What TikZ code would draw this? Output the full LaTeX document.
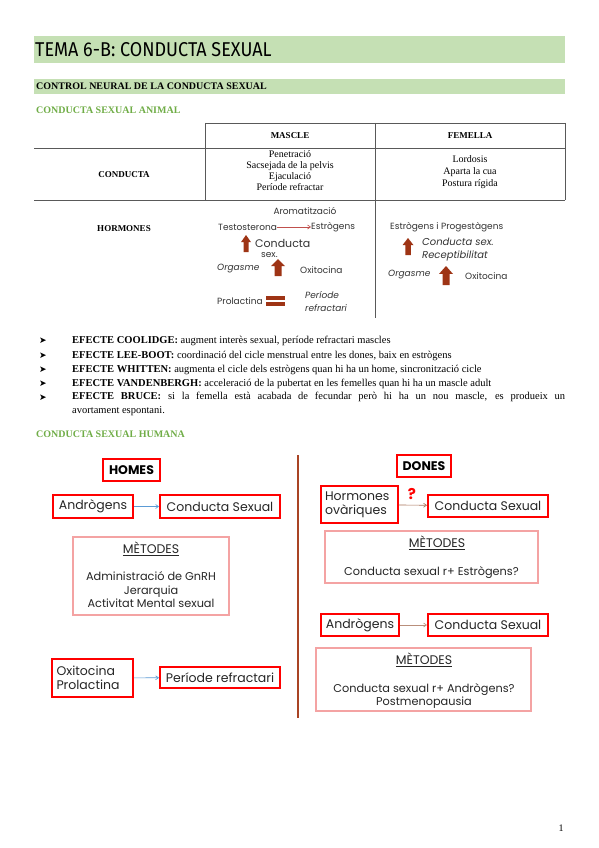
\documentclass[tikz,border=0pt]{standalone}
\usepackage{fontspec}
\setmainfont{Liberation Serif}
\newfontfamily\gothic{Poppins}
\newfontfamily\titlef{Fira Sans}
\newfontfamily\dejavu{DejaVu Sans}
\usetikzlibrary{arrows.meta}
\definecolor{titlegreen}{HTML}{C5E0B4}
\definecolor{animalgreen}{HTML}{70AD47}
\definecolor{hbrown}{HTML}{A94424}
\definecolor{blockbrown}{HTML}{9E3415}
\definecolor{pinkbox}{HTML}{F4A3A3}
\definecolor{bluearr}{HTML}{5B9BD5}
\definecolor{donarr}{HTML}{A8735A}
\definecolor{testarr}{HTML}{C0504D}
\newcommand\myuparrow[4]{\fill[blockbrown] ({#1},{#2}) -- ({#1+#4/2},{#2+0.42*#3}) -- ({#1+#4/4},{#2+0.42*#3}) -- ({#1+#4/4},{#2+#3}) -- ({#1-#4/4},{#2+#3}) -- ({#1-#4/4},{#2+0.42*#3}) -- ({#1-#4/2},{#2+0.42*#3}) -- cycle;}
\tikzset{
  tbl/.style={draw=black!65, line width=0.6pt},
  ser/.style={font=\fontsize{10}{11}\selectfont, inner sep=0pt},
  serb/.style={font=\fontsize{9}{11}\selectfont\bfseries, inner sep=0pt},
  hdr/.style={font=\fontsize{10}{11}\selectfont\bfseries, inner sep=0pt},
  bultxt/.style={font=\fontsize{10.5}{14}\selectfont, inner sep=0pt},
  goth/.style={font=\gothic\fontsize{9}{10}\selectfont, inner sep=0pt, text=black!80},
  gothi/.style={font=\gothic\itshape\fontsize{9}{10}\selectfont, inner sep=0pt, text=black!80},
  redbox/.style={draw=red, line width=1.9pt, inner sep=0pt, font=\gothic\fontsize{12.5}{14}\selectfont, text=black!85},
  headbox/.style={redbox, font=\gothic\bfseries\fontsize{12.5}{14}\selectfont, text=black},
  metbox/.style={draw=pinkbox, line width=1.1pt, inner sep=0pt},
  methead/.style={font=\gothic\fontsize{12.5}{14}\selectfont, inner sep=0pt, text=black!85},
  mettxt/.style={font=\gothic\fontsize{11.3}{13.5}\selectfont, inner sep=0pt, text=black!85},
  bul/.style={font=\dejavu\fontsize{9}{10}\selectfont, inner sep=0pt},
  conn/.style={-{Straight Barb[length=3pt,width=4pt]}, line width=0.6pt}
}
\begin{document}
\begin{tikzpicture}[x=1pt,y=-1pt]
\useasboundingbox[fill=white] (0,0) rectangle (599,848);
% title bands
\fill[titlegreen] (34,36) rectangle (565,63);
\node[anchor=west, inner sep=0pt, font=\titlef\fontsize{20}{22}\selectfont] (title) at (35,50) {\scalebox{0.9}[1]{TEMA 6-B: CONDUCTA SEXUAL}};
\fill[titlegreen] (34,79) rectangle (565,94);
\node[anchor=west, hdr] (sub) at (36,86.5) {CONTROL NEURAL DE LA CONDUCTA SEXUAL};
\node[anchor=west, hdr, text=animalgreen] (animal) at (36,110) {CONDUCTA SEXUAL ANIMAL};
% table
\draw[tbl] (205,123) -- (565,123);
\draw[tbl] (205,123) -- (205,200);
\draw[tbl] (375,123) -- (375,318);
\draw[tbl] (565,123) -- (565,200);
\draw[tbl] (34,148) -- (565,148);
\draw[tbl] (34,200) -- (565,200);
\node[serb] (mascle) at (290,136) {MASCLE};
\node[serb] (femella) at (470,136) {FEMELLA};
\node[serb] (conducta) at (124,175) {CONDUCTA};
\node[ser, align=center, font=\fontsize{10}{11}\selectfont] (mlist) at (290,171) {Penetració\\Sacsejada de la pelvis\\Ejaculació\\Període refractar};
\node[ser, align=center, font=\fontsize{10}{12}\selectfont] (flist) at (470,172) {Lordosis\\Aparta la cua\\Postura rígida};
\node[serb] (hormones) at (124,229) {HORMONES};
% male hormones
\node[goth] (arom) at (305,211) {Aromatització};
\node[goth, anchor=west] (testo) at (218,227) {Testosterona};
\node[goth, anchor=west] (estro) at (311,227) {Estrògens};
\draw[conn, draw=testarr] (testo) -- (estro);
\myuparrow{246}{235}{17}{10}
\node[goth, anchor=west, font=\gothic\fontsize{11}{12}\selectfont] (cond1) at (255,243) {Conducta};
\node[goth, anchor=west] (sex1) at (261,255) {sex.};
\node[gothi, anchor=west] (orga1) at (217,269) {Orgasme};
\myuparrow{278}{259}{17}{14}
\node[goth, anchor=west] (oxi1) at (300,270) {Oxitocina};
\node[goth, anchor=west] (prol) at (217,301) {Prolactina};
\fill[blockbrown] (266,296) rectangle (285,300);
\fill[blockbrown] (266,302) rectangle (285,306);
\node[gothi, align=left, anchor=west, font=\gothic\itshape\fontsize{9}{13}\selectfont] (perio1) at (305,302) {Període\\refractari};
% female hormones
\node[goth, anchor=west] (estprog) at (390,227) {Estrògens i Progestàgens};
\myuparrow{408}{238}{17}{11}
\node[gothi, anchor=west, align=left, font=\gothic\itshape\fontsize{10}{13}\selectfont] (cond2) at (422,250) {Conducta sex.\\Receptibilitat};
\node[gothi, anchor=west] (orga2) at (388,275) {Orgasme};
\myuparrow{446}{266}{19}{14}
\node[goth, anchor=west] (oxi2) at (465,276) {Oxitocina};
% bullets
\foreach \yy/\nm in {341/b1,356/b2,370/b3,384/b4,398/b5}{
  \node[bul] (\nm) at (43,\yy) {➤};
}
\node[bultxt, anchor=west] (t1) at (72,341) {\textbf{EFECTE COOLIDGE:} augment interès sexual, període refractari mascles};
\node[bultxt, anchor=west] (t2) at (72,356) {\textbf{EFECTE LEE-BOOT:} coordinació del cicle menstrual entre les dones, baix en estrògens};
\node[bultxt, anchor=west] (t3) at (72,370) {\textbf{EFECTE WHITTEN:} augmenta el cicle dels estrògens quan hi ha un home, sincronització cicle};
\node[bultxt, anchor=west] (t4) at (72,384) {\textbf{EFECTE VANDENBERGH:} acceleració de la pubertat en les femelles quan hi ha un mascle adult};
\node[bultxt, anchor=north west, text width=493pt, align=justify] (t5) at (72,391.5) {\textbf{EFECTE BRUCE:} si la femella està acabada de fecundar però hi ha un nou mascle, es produeix un\linebreak avortament espontani.};
\node[anchor=west, hdr, text=animalgreen] (humana) at (36,434) {CONDUCTA SEXUAL HUMANA};
% divider
\draw[hbrown, line width=2pt] (298,455) -- (298,718);
% HOMES
\node[headbox, minimum width=57pt, minimum height=22pt] (homes) at (131.5,470) {HOMES};
\node[redbox, minimum width=80pt, minimum height=23pt] (andro1) at (93,506.5) {Andrògens};
\node[redbox, minimum width=120pt, minimum height=23pt] (cs1) at (220,506.5) {Conducta Sexual};
\draw[conn, draw=bluearr] (andro1) -- (cs1);
\node[metbox, minimum width=156pt, minimum height=78pt] (met1) at (151,576) {};
\node[methead] (met1h) at (151,549) {\underline{MÈTODES}};
\node[mettxt, align=center] (met1t) at (151,590) {Administració de GnRH\\Jerarquia\\Activitat Mental sexual};
\node[redbox, minimum width=81pt, minimum height=38pt, align=left, text width=72pt, inner xsep=3pt] (oxbox) at (92.5,678) {Oxitocina\\Prolactina};
\node[redbox, minimum width=120pt, minimum height=21pt] (per) at (220,677.5) {Període refractari};
\draw[conn, draw=bluearr] (oxbox) -- (per);
% DONES
\node[headbox, minimum width=54pt, minimum height=22pt] (dones) at (424,466) {DONES};
\node[redbox, minimum width=77pt, minimum height=37pt, align=left, text width=69pt, inner xsep=3pt] (horm) at (359.5,504.5) {Hormones\\ovàriques};
\node[redbox, minimum width=120pt, minimum height=22pt] (cs2) at (488,506) {Conducta Sexual};
\draw[conn, draw=donarr] (horm) -- (cs2);
\node[inner sep=0pt, text=red, font=\gothic\bfseries\fontsize{15}{16}\selectfont] (quest) at (412,494) {?};
\node[metbox, minimum width=213pt, minimum height=52pt] (met2) at (431.5,557) {};
\node[methead] (met2h) at (437,543) {\underline{MÈTODES}};
\node[mettxt] (met2t) at (431.5,573) {Conducta sexual r+ Estrògens?};
\node[redbox, minimum width=78pt, minimum height=22pt] (andro2) at (360,625) {Andrògens};
\node[redbox, minimum width=120pt, minimum height=22pt] (cs3) at (488,625) {Conducta Sexual};
\draw[conn, draw=donarr!80] (andro2) -- (cs3);
\node[metbox, minimum width=215pt, minimum height=63pt] (met3) at (423.5,679.5) {};
\node[methead] (met3h) at (424,660) {\underline{MÈTODES}};
\node[mettxt, align=center, font=\gothic\fontsize{11.3}{13}\selectfont] (met3t) at (424,696) {Conducta sexual r+ Andrògens?\\Postmenopausia};
% page number
\node[ser] (pg) at (561,828) {1};
\end{tikzpicture}
\end{document}
